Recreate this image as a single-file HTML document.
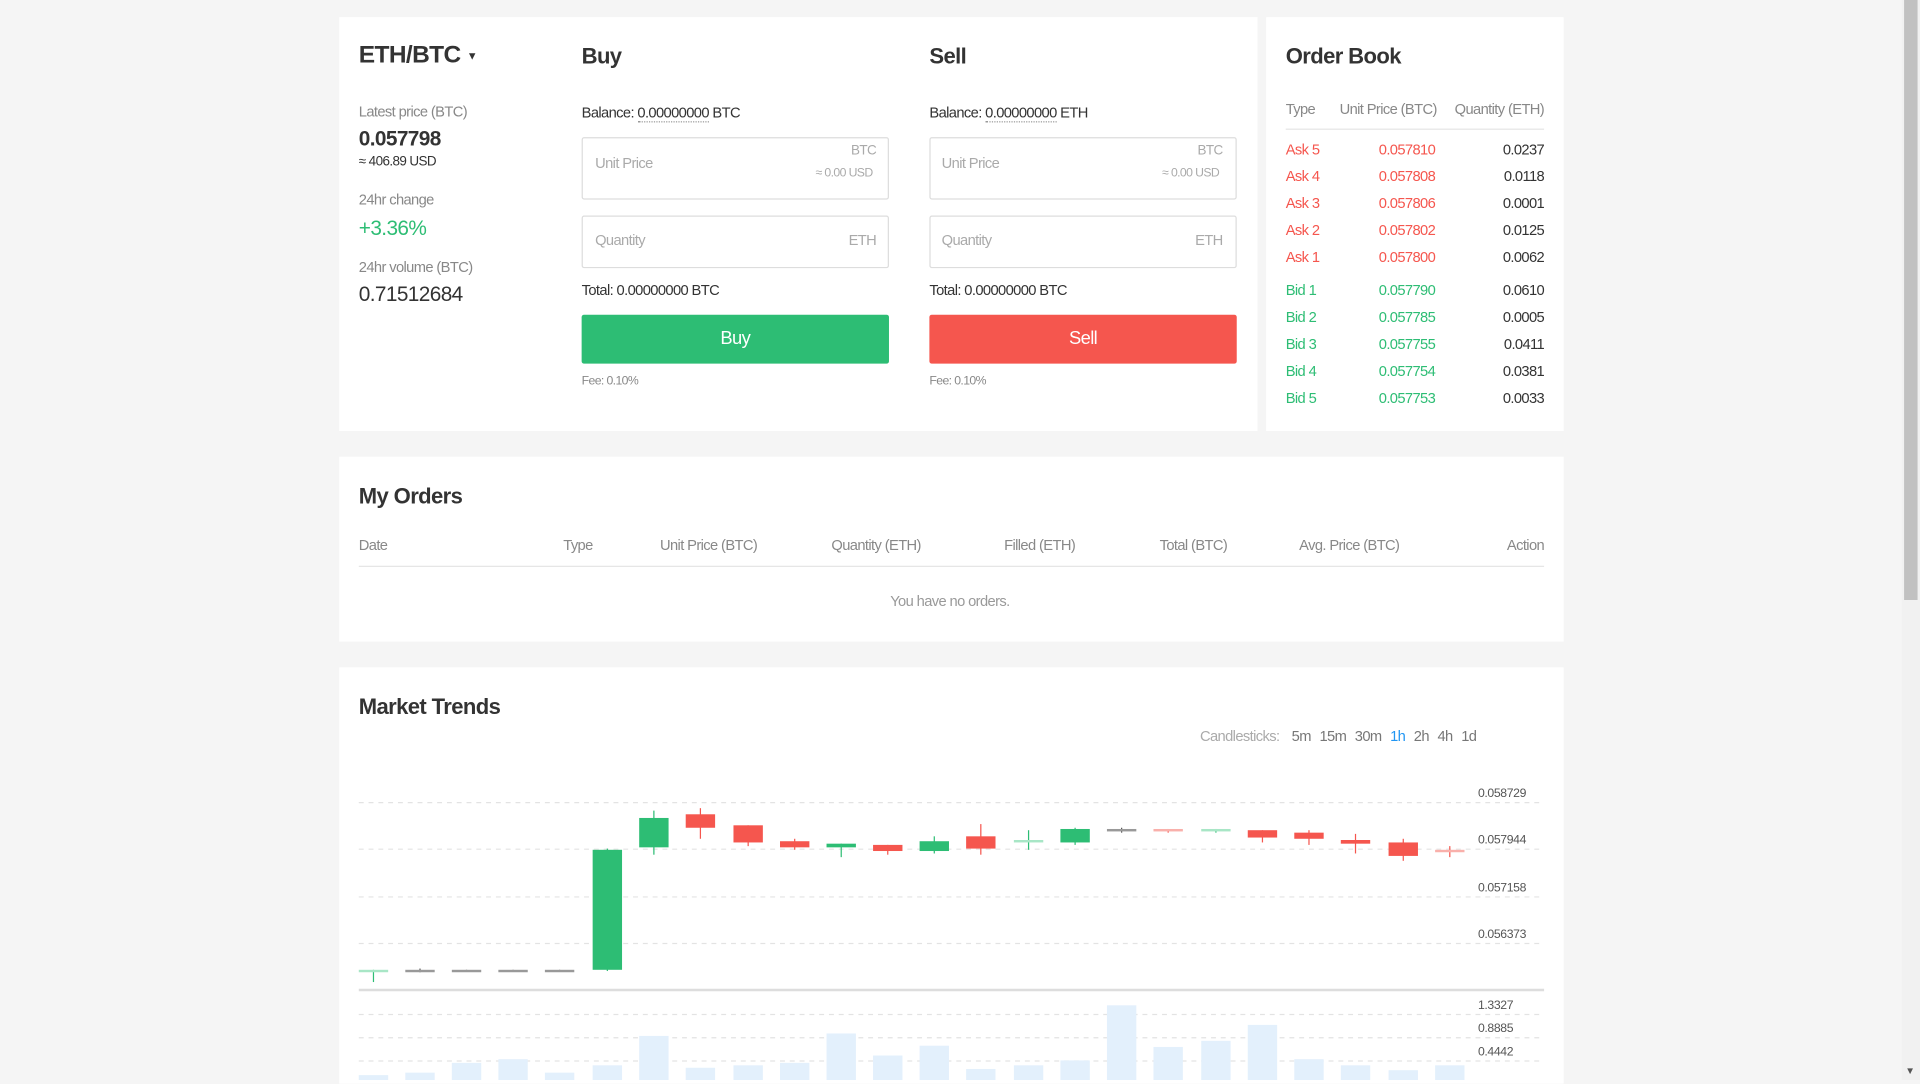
<!DOCTYPE html>
<html><head><meta charset="utf-8"><style>
*{margin:0;padding:0;box-sizing:border-box}
html,body{width:1920px;height:1080px;overflow:hidden;background:#f5f5f5}
#w{position:absolute;left:0;top:0;width:1568px;height:882px;transform:scale(1.22449);transform-origin:0 0;font-family:"Liberation Sans Narrow","Liberation Sans",sans-serif;color:#333;letter-spacing:-0.5px}
.p{position:absolute;background:#fff}
.a{position:absolute;white-space:nowrap}
.g{color:#888}
.h{font-weight:bold;color:#333}
.box{position:absolute;border:1px solid #ddd;border-radius:2px;width:251px}
.btn{position:absolute;width:251px;height:40px;color:#fff;font-size:15px;text-align:center;line-height:40px;border-radius:2px}
.ob{font-size:12px}
.r{color:#f5564e}.gr{color:#2dbd74}
.cs span{color:#777;margin-left:7px}
</style></head><body><div id="w">
<div class="p" style="left:277px;top:14px;width:750px;height:338px"></div>
<div class="p" style="left:1034px;top:14px;width:243px;height:338px"></div>
<div class="p" style="left:277px;top:373px;width:1000px;height:151px"></div>
<div class="p" style="left:277px;top:545px;width:1000px;height:340px"></div>
<div style="position:absolute;left:1553px;top:0;width:15px;height:882px;background:#f1f1f1"></div>
<div style="position:absolute;left:1555px;top:0;width:11px;height:490px;background:#c1c1c1"></div>
<div class="a" style="left:1556px;top:870px;font-size:8px;color:#555">▼</div>

<div class="a h" style="left:293px;top:34px;font-size:20px">ETH/BTC <span style="font-size:9px;vertical-align:middle">▼</span></div>
<div class="a g" style="left:293px;top:84px;font-size:12px">Latest price (BTC)</div>
<div class="a" style="left:293px;top:104px;font-size:17px;font-weight:bold">0.057798</div>
<div class="a" style="left:293px;top:126px;font-size:11px">≈ 406.89 USD</div>
<div class="a g" style="left:293px;top:156px;font-size:12px">24hr change</div>
<div class="a gr" style="left:293px;top:177px;font-size:17px">+3.36%</div>
<div class="a g" style="left:293px;top:211px;font-size:12px">24hr volume (BTC)</div>
<div class="a" style="left:293px;top:231px;font-size:17px">0.71512684</div>

<div class="a h" style="left:475px;top:36px;font-size:18px">Buy</div>
<div class="a" style="left:475px;top:85px;font-size:12px">Balance: <span style="border-bottom:1px dotted #999">0.00000000</span> BTC</div>
<div class="box" style="left:475px;top:112px;height:51px"></div>
<div class="a" style="left:486px;top:126px;font-size:12px;color:#aaa">Unit Price</div>
<div class="a" style="left:695px;top:117px;font-size:11px;color:#aaa">BTC</div>
<div class="a" style="left:666px;top:136px;font-size:10px;color:#aaa">≈ 0.00 USD</div>
<div class="box" style="left:475px;top:176px;height:43px"></div>
<div class="a" style="left:486px;top:189px;font-size:12px;color:#aaa">Quantity</div>
<div class="a" style="left:693px;top:189px;font-size:12px;color:#aaa">ETH</div>
<div class="a" style="left:475px;top:230px;font-size:12px">Total: 0.00000000 BTC</div>
<div class="btn" style="left:475px;top:257px;background:#2dbd74">Buy</div>
<div class="a g" style="left:475px;top:306px;font-size:10px">Fee: 0.10%</div>

<div class="a h" style="left:759px;top:36px;font-size:18px">Sell</div>
<div class="a" style="left:759px;top:85px;font-size:12px">Balance: <span style="border-bottom:1px dotted #999">0.00000000</span> ETH</div>
<div class="box" style="left:759px;top:112px;height:51px"></div>
<div class="a" style="left:769px;top:126px;font-size:12px;color:#aaa">Unit Price</div>
<div class="a" style="left:978px;top:117px;font-size:11px;color:#aaa">BTC</div>
<div class="a" style="left:949px;top:136px;font-size:10px;color:#aaa">≈ 0.00 USD</div>
<div class="box" style="left:759px;top:176px;height:43px"></div>
<div class="a" style="left:769px;top:189px;font-size:12px;color:#aaa">Quantity</div>
<div class="a" style="left:976px;top:189px;font-size:12px;color:#aaa">ETH</div>
<div class="a" style="left:759px;top:230px;font-size:12px">Total: 0.00000000 BTC</div>
<div class="btn" style="left:759px;top:257px;background:#f5564e">Sell</div>
<div class="a g" style="left:759px;top:306px;font-size:10px">Fee: 0.10%</div>

<div class="a h" style="left:1050px;top:36px;font-size:18px">Order Book</div>
<div class="a g ob" style="left:1050px;top:82px">Type</div>
<div class="a g ob" style="left:1094px;top:82px">Unit Price (BTC)</div>
<div class="a g ob" style="right:307px;top:82px">Quantity (ETH)</div>
<div style="position:absolute;left:1050px;top:105px;width:211px;height:1px;background:#e5e5e5"></div>
<div class="a ob r" style="left:1050px;top:111px;line-height:22px">Ask 5<br>Ask 4<br>Ask 3<br>Ask 2<br>Ask 1</div>
<div class="a ob r" style="left:1126px;top:111px;line-height:22px">0.057810<br>0.057808<br>0.057806<br>0.057802<br>0.057800</div>
<div class="a ob" style="right:307px;top:111px;line-height:22px;text-align:right">0.0237<br>0.0118<br>0.0001<br>0.0125<br>0.0062</div>
<div class="a ob gr" style="left:1050px;top:226px;line-height:22px">Bid 1<br>Bid 2<br>Bid 3<br>Bid 4<br>Bid 5</div>
<div class="a ob gr" style="left:1126px;top:226px;line-height:22px">0.057790<br>0.057785<br>0.057755<br>0.057754<br>0.057753</div>
<div class="a ob" style="right:307px;top:226px;line-height:22px;text-align:right">0.0610<br>0.0005<br>0.0411<br>0.0381<br>0.0033</div>

<div class="a h" style="left:293px;top:395px;font-size:18px">My Orders</div>
<div class="a g" style="left:293px;top:438px;font-size:12px">Date</div>
<div class="a g" style="left:460px;top:438px;font-size:12px">Type</div>
<div class="a g" style="left:539px;top:438px;font-size:12px">Unit Price (BTC)</div>
<div class="a g" style="left:679px;top:438px;font-size:12px">Quantity (ETH)</div>
<div class="a g" style="left:820px;top:438px;font-size:12px">Filled (ETH)</div>
<div class="a g" style="left:947px;top:438px;font-size:12px">Total (BTC)</div>
<div class="a g" style="left:1061px;top:438px;font-size:12px">Avg. Price (BTC)</div>
<div class="a g" style="right:307px;top:438px;font-size:12px">Action</div>
<div style="position:absolute;left:293px;top:462px;width:968px;height:1px;background:#e5e5e5"></div>
<div class="a" style="left:727px;top:484px;font-size:12px;color:#999">You have no orders.</div>

<div class="a h" style="left:293px;top:567px;font-size:18px">Market Trends</div>
<div class="a cs" style="left:980px;top:594px;font-size:12px;color:#aaa">Candlesticks:<span style="margin-left:10px">5m</span><span>15m</span><span>30m</span><span style="color:#2196f3">1h</span><span>2h</span><span>4h</span><span>1d</span></div>

<svg style="position:absolute;left:0;top:0" width="1568" height="882">
<g stroke="#e3e3e3" stroke-dasharray="4,4" stroke-width="1">
<line x1="293" x2="1261" y1="655.5" y2="655.5"/><line x1="293" x2="1261" y1="693.5" y2="693.5"/><line x1="293" x2="1261" y1="732.5" y2="732.5"/><line x1="293" x2="1261" y1="770.5" y2="770.5"/>
<line x1="293" x2="1261" y1="828.5" y2="828.5"/><line x1="293" x2="1261" y1="847.5" y2="847.5"/><line x1="293" x2="1261" y1="866.5" y2="866.5"/>
</g>
<line x1="293" x2="1261" y1="808.5" y2="808.5" stroke="#ddd" stroke-width="2"/>
<g font-family="Liberation Sans Narrow, Liberation Sans, sans-serif" font-size="10" fill="#555" letter-spacing="-0.3">
<text x="1207" y="651">0.058729</text><text x="1207" y="689">0.057944</text><text x="1207" y="728">0.057158</text><text x="1207" y="766">0.056373</text>
<text x="1207" y="824">1.3327</text><text x="1207" y="843">0.8885</text><text x="1207" y="862">0.4442</text>
</g>
<g fill="#e3f0fc" id="vol"></g>
<g id="c"></g>
</svg>
<script>
var xs=[305,343,381,419,457,496,534,572,611,649,687,725,763,801,840,878,916,954,993,1031,1069,1107,1146,1184];
var vt=[878,876,868,865,876,870,846,872,870,868,844,862,854,873,870,866,821,855,850,837,865,870,874,870];
var G='#2dbd74',R='#f5564e',Y='#999',LG='#a8e6c6',LR='#f9b0ab';
var cd=[[LG,792,793,792,802],[Y,792,793,791,794],[Y,792,793,792,793],[Y,792,793,792,793],[Y,792,793,792,793],
[G,694,792,693,793],[G,668,692,662,698],[R,665,676,660,685],[R,674,688,674,691],[R,687,692,685,694],
[G,689,692,689,700],[R,690,695,690,698],[G,687,695,683,697],[R,683,693,673,698],[LG,686,687,678,694],
[G,677,688,676,690],[Y,677,678,676,680],[LR,677,678,677,680],[LG,677,678,677,680],[R,678,684,678,688],
[R,680,685,678,690],[R,686,689,681,697],[R,688,699,685,703],[LR,694,695,691,700]];
var s='',v='';
xs.forEach(function(x,i){
v+='<rect x="'+(x-12)+'" y="'+vt[i]+'" width="24" height="'+(885-vt[i])+'"/>';
var c=cd[i],wc=c[0]==LG?G:c[0]==LR?R:c[0]==Y?'#555':c[0];
s+='<line x1="'+x+'" x2="'+x+'" y1="'+c[3]+'" y2="'+c[4]+'" stroke="'+wc+'" stroke-width="1"/>';
s+='<rect x="'+(x-12)+'" y="'+c[1]+'" width="24" height="'+Math.max(2,c[2]-c[1])+'" fill="'+c[0]+'"/>';
});
document.getElementById('vol').innerHTML=v;document.getElementById('c').innerHTML=s;
</script>
</div></body></html>
